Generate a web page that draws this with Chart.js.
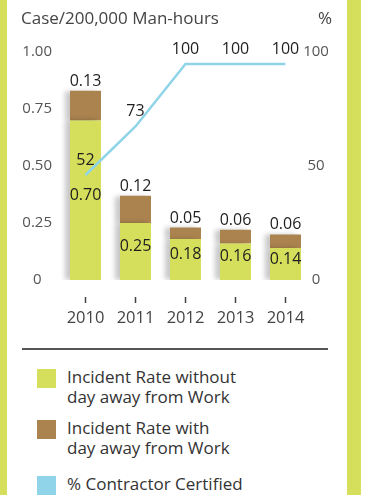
<!DOCTYPE html>
<html>
<head>
<meta charset="utf-8">
<script src="https://cdn.jsdelivr.net/npm/chart.js@4/dist/chart.umd.min.js"></script>
<style>
html,body{margin:0;padding:0;width:367px;height:495px;overflow:hidden;background:#fff;font-family:"Open Sans",sans-serif;}
#stripL{position:absolute;left:0;top:0;width:7px;height:495px;background:#d5df5c;}
#stripR{position:absolute;left:347px;top:0;width:14px;height:495px;background:#d5df5c;}
#wrap{position:absolute;left:0;top:0;width:367px;height:340px;}
#ytitle{position:absolute;left:21px;top:6px;font-size:17px;line-height:24px;color:#444;white-space:nowrap;}
#ptitle{position:absolute;left:318px;top:6px;font-size:17px;line-height:24px;color:#444;}
#sep{position:absolute;left:22px;top:348px;width:306px;height:2px;background:#555;}
.item{position:absolute;left:37px;}
.sw{position:absolute;left:0;top:2px;width:19px;height:19px;}
.tx{position:absolute;left:30px;top:0;font-size:17px;line-height:20px;color:#333;white-space:nowrap;}
</style>
</head>
<body>
<div id="stripL"></div>
<div id="stripR"></div>
<div id="wrap"><canvas id="c" width="367" height="340"></canvas></div>
<div id="ytitle">Case/200,000 Man-hours</div>
<div id="ptitle">%</div>
<div id="sep"></div>
<div id="legend"></div>
<script>
// ---- data ----
const years = ['2010', '2011', '2012', '2013', '2014'];
const rateWithoutDayAway = [0.70, 0.25, 0.18, 0.16, 0.14];
const rateWithDayAway = [0.13, 0.12, 0.05, 0.06, 0.06];
const contractorCertifiedPct = [52, 73, 100, 100, 100];
const leftTickLabels = ['0', '0.25', '0.50', '0.75', '1.00'];
const rightTickLabels = ['0', '50', '100'];
const seriesNames = [
  ['Incident Rate without', 'day away from Work'],
  ['Incident Rate with', 'day away from Work'],
  ['% Contractor Certified']
];

const GREEN = '#d5df5c', BROWN = '#ab834f', BLUE = '#8fd4e8';
const FONT = '"Open Sans", sans-serif';

const valueLabels = {
  id: 'valueLabels',
  afterDatasetsDraw(chart) {
    const ctx = chart.ctx;
    ctx.save();
    ctx.font = '16px ' + FONT;
    ctx.fillStyle = '#1e1e1e';
    ctx.textAlign = 'center';
    ctx.textBaseline = 'middle';
    chart.data.datasets.forEach((ds, i) => {
      const meta = chart.getDatasetMeta(i);
      meta.data.forEach((el, j) => {
        const v = ds.data[j];
        let y, txt;
        if (ds.labelPos === 'inside') { y = (el.y + el.base) / 2 - 5; txt = v.toFixed(2); }
        else if (ds.labelPos === 'top') { y = el.y - 9.5; txt = v.toFixed(2); }
        else { y = el.y - 15; txt = String(v); }
        ctx.fillText(txt, el.x, y);
      });
    });
    ctx.restore();
  }
};

const barShadow = {
  id: 'barShadow',
  beforeDatasetDraw(chart, args) {
    if (chart.getDatasetMeta(args.index).type === 'bar') {
      const c = chart.ctx;
      c.save();
      c.shadowColor = 'rgba(0,0,0,0.22)';
      c.shadowBlur = 5;
      c.shadowOffsetX = -5;
      c.shadowOffsetY = 0;
    }
  },
  afterDatasetDraw(chart, args) {
    if (chart.getDatasetMeta(args.index).type === 'bar') chart.ctx.restore();
  }
};

const chart = new Chart(document.getElementById('c'), {
  data: {
    labels: years,
    datasets: [
      { type: 'line', label: seriesNames[2], data: contractorCertifiedPct, yAxisID: 'yLine',
        borderColor: BLUE, backgroundColor: BLUE, borderWidth: 2.5, pointRadius: 0, fill: false,
        tension: 0, order: 0, labelPos: 'line' },
      { type: 'bar', label: seriesNames[0], data: rateWithoutDayAway, yAxisID: 'y',
        backgroundColor: GREEN, borderWidth: 0, order: 1, stack: 's', labelPos: 'inside',
        barPercentage: 0.62, categoryPercentage: 1 },
      { type: 'bar', label: seriesNames[1], data: rateWithDayAway, yAxisID: 'y',
        backgroundColor: BROWN, borderWidth: 0, order: 1, stack: 's', labelPos: 'top',
        barPercentage: 0.62, categoryPercentage: 1 }
    ]
  },
  options: {
    responsive: false,
    animation: false,
    devicePixelRatio: 1,
    layout: { padding: { top: 52, left: 0, right: 0, bottom: 0 } },
    plugins: { legend: { display: false }, tooltip: { enabled: false } },
    scales: {
      x: {
        stacked: true, offset: true,
        grid: { display: true, drawOnChartArea: false, offset: false, drawTicks: true,
                tickLength: 23, tickColor: '#444', tickWidth: 1.5, tickBorderDash: [0, 17, 6, 40] },
        border: { display: false },
        ticks: { font: { family: FONT, size: 16.5 }, color: '#444', padding: 5 },
        afterFit(s) { s.height = 60; }
      },
      y: {
        position: 'left', stacked: true, min: 0, max: 1,
        grid: { display: false, drawTicks: false },
        border: { display: false },
        ticks: { stepSize: 0.25, callback: (v, i) => leftTickLabels[i], crossAlign: 'center',
                 padding: 8.5, font: { family: FONT, size: 15 }, color: '#555' },
        afterFit(s) { s.width = 60.5; }
      },
      yRight: {
        position: 'right', min: 0, max: 100,
        grid: { display: false, drawTicks: false },
        border: { display: false },
        ticks: { stepSize: 50, callback: (v, i) => rightTickLabels[i], crossAlign: 'center',
                 mirror: true, padding: 18.4, font: { family: FONT, size: 15 }, color: '#555' },
        afterFit(s) { s.width = 56.5; }
      },
      yLine: { display: false, min: 6.6, max: 105.2 }
    }
  },
  plugins: [barShadow, valueLabels]
});

// ---- HTML legend built from the chart's datasets ----
const legendTops = [367, 418, 474];
const legendOrder = [1, 2, 0];
const legendEl = document.getElementById('legend');
legendOrder.forEach((di, k) => {
  const ds = chart.data.datasets[di];
  const item = document.createElement('div');
  item.className = 'item';
  item.style.top = legendTops[k] + 'px';
  const sw = document.createElement('div');
  sw.className = 'sw';
  sw.style.background = ds.backgroundColor;
  const tx = document.createElement('div');
  tx.className = 'tx';
  tx.innerHTML = [].concat(ds.label).join('<br>');
  item.appendChild(sw);
  item.appendChild(tx);
  legendEl.appendChild(item);
});
</script>
</body>
</html>
